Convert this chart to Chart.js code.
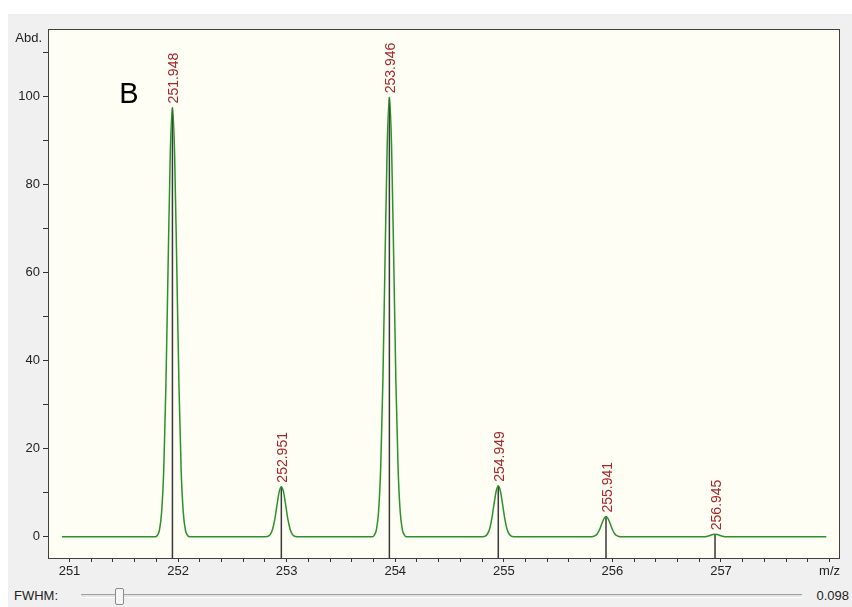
<!DOCTYPE html>
<html>
<head>
<meta charset="utf-8">
<script src="https://cdn.jsdelivr.net/npm/chart.js@4.4.0/dist/chart.umd.min.js"></script>
<style>
  html,body{margin:0;padding:0;background:#fff;}
  body{width:852px;height:607px;position:relative;overflow:hidden;font-family:"Liberation Sans",Arial,sans-serif;}
  .panel{position:absolute;left:8px;top:14px;width:844px;height:593px;background:#f0f0f0;}
  #c{position:absolute;left:0;top:0;}
  .fwhm{position:absolute;left:14px;top:588px;font-size:13px;color:#222;}
  .track{position:absolute;left:81px;top:594px;width:721px;height:2px;border-top:1px solid #a0a0a0;border-bottom:1px solid #fff;background:#e3e3e3;}
  .thumb{position:absolute;left:115px;top:588px;width:7px;height:15px;background:#f6f6f6;border:1px solid #8a8a8a;border-radius:2px;}
  .val{position:absolute;right:3px;top:588px;font-size:13px;color:#222;}
</style>
</head>
<body>
<div class="panel"></div>
<canvas id="c" width="852" height="582"></canvas>
<div class="fwhm">FWHM:</div>
<div class="track"></div>
<div class="thumb"></div>
<div class="val">0.098</div>
<script>
// isotope pattern: sticks + profile (FWHM 0.098)
const peakMz = [251.948, 252.951, 253.946, 254.949, 255.941, 256.945];
const peakAbd = [97.5, 11.4, 99.8, 11.6, 4.6, 0.6];
const peakLabels = ['251.948', '252.951', '253.946', '254.949', '255.941', '256.945'];

// profile around each peak, offsets in m/z from the stick
const profileOffsets = [-0.16,-0.14,-0.12,-0.10,-0.08,-0.06,-0.04,-0.02,0,0.02,0.04,0.06,0.08,0.10,0.12,0.14,0.16];
const profile1 = [0, 0.3, 1.5, 5.5, 15.3, 34.4, 61.4, 86.9, 97.5, 86.9, 61.4, 34.4, 15.3, 5.5, 1.5, 0.3, 0];
const profile2 = [0, 0.04, 0.18, 0.64, 1.8, 4.0, 7.2, 10.2, 11.4, 10.2, 7.2, 4.0, 1.8, 0.64, 0.18, 0.04, 0];
const profile3 = [0, 0.35, 1.6, 5.6, 15.7, 35.2, 62.9, 88.9, 99.8, 88.9, 62.9, 35.2, 15.7, 5.6, 1.6, 0.35, 0];
const profile4 = [0, 0.04, 0.18, 0.65, 1.8, 4.1, 7.3, 10.3, 11.6, 10.3, 7.3, 4.1, 1.8, 0.65, 0.18, 0.04, 0];
const profile5 = [0, 0.02, 0.07, 0.26, 0.72, 1.6, 2.9, 4.1, 4.6, 4.1, 2.9, 1.6, 0.72, 0.26, 0.07, 0.02, 0];
const profile6 = [0, 0, 0.01, 0.03, 0.09, 0.21, 0.38, 0.53, 0.6, 0.53, 0.38, 0.21, 0.09, 0.03, 0.01, 0, 0];
const profileStart = 250.93, profileEnd = 257.97;

const xMin = 250.802, xMax = 258.096;
const yMin = -4.8, yMax = 115.3;
const yTicks = [0, 10, 20, 30, 40, 50, 60, 70, 80, 90, 100, 110];
const yLabelEvery = 20;
const xUnit = 'm/z', xUnitAt = 258;
const yUnit = 'Abd.';
const panelLetter = 'B';

const FONT = '"Liberation Sans", Arial, sans-serif';

// build the line data
const profiles = [profile1, profile2, profile3, profile4, profile5, profile6];
const profileData = [{x: profileStart, y: 0}];
profiles.forEach((p, i)=>{
  p.forEach((v, k)=> profileData.push({x: +(peakMz[i] + profileOffsets[k]).toFixed(4), y: v}));
});
profileData.push({x: profileEnd, y: 0});

const stickData = [];
peakMz.forEach((m, i)=>{
  stickData.push({x: m, y: yMin - 5});
  stickData.push({x: m, y: peakAbd[i]});
  stickData.push({x: m, y: null});
});

const frame = {
  id: 'frame',
  beforeDraw(chart){
    const {ctx, chartArea: a} = chart;
    ctx.save();
    ctx.fillStyle = '#fefef4';
    ctx.fillRect(a.left, a.top, a.right - a.left, a.bottom - a.top);
    ctx.restore();
  },
  afterDraw(chart){
    const {ctx, chartArea: a, scales} = chart;
    ctx.save();
    ctx.strokeStyle = '#404040';
    ctx.lineWidth = 1;
    ctx.strokeRect(a.left + 0.5, a.top + 0.5, a.right - a.left - 1, a.bottom - a.top);
    // peak labels
    ctx.fillStyle = '#a3282c';
    ctx.font = '14px ' + FONT;
    ctx.textAlign = 'left';
    ctx.textBaseline = 'middle';
    peakMz.forEach((m, i)=>{
      const x = scales.x.getPixelForValue(m);
      const y = scales.y.getPixelForValue(peakAbd[i]);
      ctx.save();
      ctx.translate(x + 2, y - 4);
      ctx.rotate(-Math.PI/2);
      ctx.fillText(peakLabels[i], 0, 0);
      ctx.restore();
    });
    // axis unit + panel letter
    ctx.fillStyle = '#222';
    ctx.font = '13px ' + FONT;
    ctx.textAlign = 'right';
    ctx.textBaseline = 'middle';
    ctx.fillText(yUnit, a.left - 6, a.top + 9);
    ctx.fillStyle = '#000';
    ctx.font = '29px ' + FONT;
    ctx.textAlign = 'center';
    ctx.textBaseline = 'alphabetic';
    ctx.fillText(panelLetter, 129, 103);
    ctx.restore();
  }
};

new Chart(document.getElementById('c'), {
  type: 'line',
  data: {
    datasets: [
      { data: profileData, borderColor: '#2b912b', borderWidth: 1.5, pointRadius: 0, cubicInterpolationMode: 'monotone' },
      { data: stickData, borderColor: '#3a3a3a', borderWidth: 1.5, pointRadius: 0, spanGaps: false }
    ]
  },
  options: {
    responsive: false,
    animation: false,
    devicePixelRatio: 1,
    layout: { padding: { top: 29, right: 12, left: 0, bottom: 0 } },
    plugins: { legend: { display: false }, tooltip: { enabled: false } },
    scales: {
      x: {
        type: 'linear', min: xMin, max: xMax,
        afterFit(s){ s.height = 24; },
        border: { display: false },
        grid: { drawOnChartArea: false, drawTicks: true, tickLength: 4, color: '#333' },
        ticks: {
          stepSize: 0.2, includeBounds: false, autoSkip: false, maxRotation: 0, maxTicksLimit: 100,
          padding: 2, color: '#222', font: { family: FONT, size: 13 },
          callback(v){
            const r = Math.round(v);
            if (Math.abs(v - r) > 1e-6) return '';
            return r === xUnitAt ? xUnit : String(r);
          }
        }
      },
      y: {
        min: yMin, max: yMax,
        afterFit(s){ s.width = 48; },
        afterBuildTicks(s){ s.ticks = yTicks.map(v=>({value: v})); },
        border: { display: false },
        grid: { drawOnChartArea: false, drawTicks: true, tickLength: 5, color: '#333' },
        ticks: {
          autoSkip: false, padding: 3,
          color: '#222', font: { family: FONT, size: 13 },
          callback(v){ return (v % yLabelEvery === 0) ? String(v) : ''; }
        }
      }
    }
  },
  plugins: [frame]
});
</script>
</body>
</html>
